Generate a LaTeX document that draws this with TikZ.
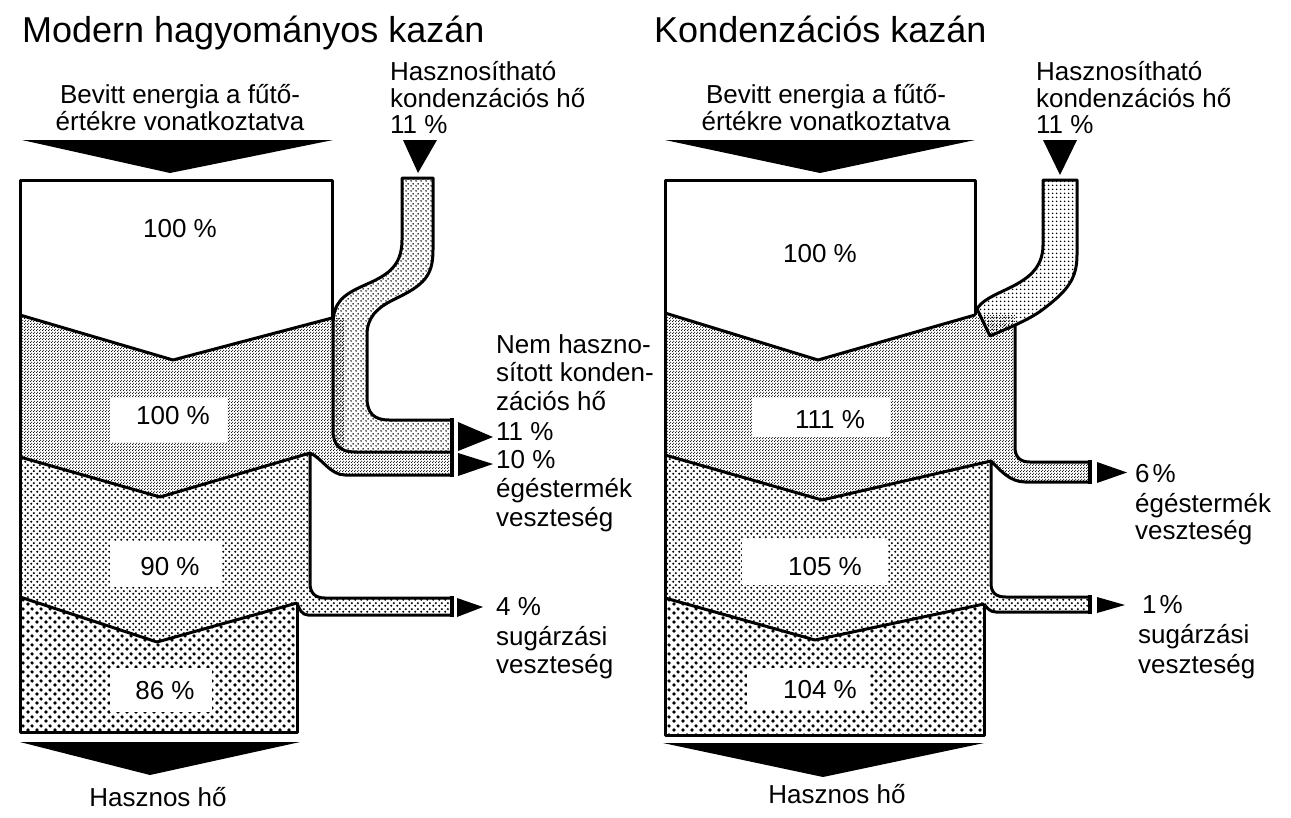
\documentclass[tikz,border=0pt]{standalone}
\usepackage{fontspec}
\setmainfont{Liberation Sans}
\usetikzlibrary{patterns}
\pgfdeclarepatternformonly{lightdots}{\pgfqpoint{0pt}{0pt}}{\pgfqpoint{3pt}{3pt}}{\pgfqpoint{3pt}{3pt}}{%
  \pgfpathcircle{\pgfqpoint{0.75pt}{0.75pt}}{0.74pt}%
  \pgfpathcircle{\pgfqpoint{2.25pt}{2.25pt}}{0.74pt}%
  \pgfusepath{fill}}
\pgfdeclarepatternformonly{meddots}{\pgfqpoint{0pt}{0pt}}{\pgfqpoint{6pt}{6pt}}{\pgfqpoint{6pt}{6pt}}{%
  \pgfpathcircle{\pgfqpoint{1.5pt}{1.5pt}}{1.3pt}%
  \pgfpathcircle{\pgfqpoint{4.5pt}{4.5pt}}{1.3pt}%
  \pgfusepath{fill}}
\pgfdeclarepatternformonly{bigdots}{\pgfqpoint{0pt}{0pt}}{\pgfqpoint{8.5pt}{8.5pt}}{\pgfqpoint{8.5pt}{8.5pt}}{%
  \pgfpathcircle{\pgfqpoint{2.125pt}{2.125pt}}{1.9pt}%
  \pgfpathcircle{\pgfqpoint{6.375pt}{6.375pt}}{1.9pt}%
  \pgfusepath{fill}}
\pgfdeclarepatternformonly{pipedots}{\pgfqpoint{0pt}{0pt}}{\pgfqpoint{5pt}{5pt}}{\pgfqpoint{5pt}{5pt}}{%
  \pgfpathcircle{\pgfqpoint{1.25pt}{1.25pt}}{1.0pt}%
  \pgfpathcircle{\pgfqpoint{3.75pt}{3.75pt}}{1.0pt}%
  \pgfusepath{fill}}
\pgfdeclarepatternformonly{sqdots}{\pgfqpoint{0pt}{0pt}}{\pgfqpoint{3.6pt}{3.6pt}}{\pgfqpoint{3.6pt}{3.6pt}}{%
  \pgfpathcircle{\pgfqpoint{1.8pt}{1.8pt}}{0.85pt}%
  \pgfusepath{fill}}
\begin{document}
\begin{tikzpicture}[x=1pt,y=-1pt,
  wall/.style={line width=3pt,line join=round},
  endbar/.style={line width=4pt},
  lbl/.style={font=\fontsize{26}{30}\selectfont,inner sep=0pt,anchor=base west},
  ctr/.style={font=\fontsize{26}{30}\selectfont,inner sep=0pt,anchor=base},
  ttl/.style={font=\fontsize{36}{40}\selectfont,inner sep=0pt,anchor=base west},
  wbox/.style={fill=white}]
\useasboundingbox[fill=white] (0,0) rectangle (1291,817);

% ================= LEFT: Modern hagyomanyos kazan =================
\fill[pattern=lightdots] (20,315) -- (173,360) -- (332,318) -- (345,318) -- (345,452) -- (452,452) -- (452,475) -- (345,475) .. controls (330,475) and (322,458) .. (310,453) -- (160,497) -- (20,457) -- cycle;
\fill[pattern=meddots] (20,457) -- (160,497) -- (310,453) -- (310,583) .. controls (310,593) and (315,598) .. (325,598) -- (452,598) -- (452,615) -- (308,615) .. controls (302,615) and (299,609) .. (297,603) -- (157,642) -- (20,597) -- cycle;
\fill[pattern=bigdots] (20,597) -- (157,642) -- (297,603) -- (297,732) -- (20,732) -- cycle;

\draw[wall] (332,318) -- (332,180) -- (20,180) -- (20,732) -- (297,732) -- (297,603);
\draw[wall] (20,315) -- (173,360) -- (332,318);
\draw[wall] (20,457) -- (160,497) -- (310,453);
\draw[wall] (20,597) -- (157,642) -- (297,603);
\draw[wall] (450,475) -- (345,475) .. controls (330,475) and (322,458) .. (310,453) -- (310,583) .. controls (310,593) and (315,598) .. (325,598) -- (450,598);
\draw[wall] (450,615) -- (308,615) .. controls (302,615) and (299,609) .. (297,603);

\path[draw,wall,pattern=pipedots] (402,178) -- (402,240) .. controls (402,268) and (385,276) .. (365,285) .. controls (342,295) and (333,303) .. (333,325) -- (333,430) .. controls (333,445) and (340,452) .. (355,452) -- (452,452) -- (452,420) -- (389,420) .. controls (374,420) and (367,413) .. (367,398) -- (367,335) .. controls (367,318) and (376,308) .. (395,299) .. controls (424,285) and (433,276) .. (433,250) -- (433,178) -- cycle;
\draw[endbar] (452,418) -- (452,477) (452,596) -- (452,617);

% arrows
\fill (22,140) -- (333,140) -- (170,173) -- cycle;
\fill (403,140) -- (437,140) -- (418,173) -- cycle;
\fill (20,742) -- (300,742) -- (150,775) -- cycle;
\fill (458,422) -- (458,451) -- (493,437) -- cycle;
\fill (458,453) -- (458,476) -- (493,464) -- cycle;
\fill (457,598) -- (457,617) -- (483,607) -- cycle;

% value boxes
\fill[wbox] (110,398) rectangle (227,442);
\fill[wbox] (110,542) rectangle (222,587);
\fill[wbox] (110,668) rectangle (212,712);
\node[ctr] (Lp1) at (180,237) {100 \%};
\node[ctr] (Lp2) at (173,424) {100 \%};
\node[ctr] (Lp3) at (170,575) {90 \%};
\node[ctr] (Lp4) at (165,699) {86 \%};

% texts
\node[ttl] (Lt) at (22,42) {Modern hagyományos kazán};
\node[ctr] (Lb1) at (180,103) {Bevitt energia a fűtő-};
\node[ctr] (Lb2) at (180,130) {értékre vonatkoztatva};
\node[lbl] (Lh1) at (390,80) {Hasznosítható};
\node[lbl] (Lh2) at (390,107) {kondenzációs hő};
\node[lbl] (Lh3) at (390,133) {11 \%};
\node[lbl] (Ln1) at (496,353) {Nem haszno-};
\node[lbl] (Ln2) at (496,381) {sított konden-};
\node[lbl] (Ln3) at (496,410) {zációs hő};
\node[lbl] (Ln4) at (496,440) {11 \%};
\node[lbl] (Le1) at (496,468) {10 \%};
\node[lbl] (Le2) at (496,497) {égéstermék};
\node[lbl] (Le3) at (496,526) {veszteség};
\node[lbl] (Ls1) at (496,615) {4 \%};
\node[lbl] (Ls2) at (496,645) {sugárzási};
\node[lbl] (Ls3) at (496,673) {veszteség};
\node[ctr] (Lu) at (158,806) {Hasznos hő};

% ================= RIGHT: Kondenzacios kazan =================
\fill[pattern=lightdots] (665,313) -- (818,360) -- (975,315) -- (1015,315) -- (1015,447) .. controls (1015,457) and (1020,462) .. (1030,462) -- (1088,462) -- (1088,482) -- (1025,482) .. controls (1010,482) and (1000,470) .. (991,461) -- (822,500) -- (665,455) -- cycle;
\fill[pattern=meddots] (665,455) -- (822,500) -- (991,461) -- (991,583) .. controls (991,593) and (996,597) .. (1006,597) -- (1088,597) -- (1088,612) -- (996,612) .. controls (990,612) and (987,608) .. (984,604) -- (815,640) -- (665,598) -- cycle;
\fill[pattern=bigdots] (665,598) -- (815,640) -- (984,604) -- (984,735) -- (665,735) -- cycle;

\draw[wall] (975,315) -- (975,180) -- (665,180) -- (665,735) -- (984,735) -- (984,604);
\draw[wall] (665,313) -- (818,360) -- (975,315);
\draw[wall] (665,455) -- (822,500) -- (991,461);
\draw[wall] (665,598) -- (815,640) -- (984,604);
\draw[wall] (1015,324) -- (1015,447) .. controls (1015,457) and (1020,462) .. (1030,462) -- (1088,462);
\draw[wall] (1088,482) -- (1025,482) .. controls (1010,482) and (1000,470) .. (991,461) -- (991,583) .. controls (991,593) and (996,597) .. (1006,597) -- (1088,597);
\draw[wall] (1088,612) -- (996,612) .. controls (990,612) and (987,608) .. (984,604);

\path[draw,wall,pattern=sqdots] (1043,180) -- (1043,245) .. controls (1043,272) and (1022,282) .. (1003,291) .. controls (990,297) and (981,302) .. (977,309) -- (990,336) .. controls (1008,328) and (1030,320) .. (1046,307) .. controls (1068,290) and (1077,278) .. (1077,255) -- (1077,180) -- cycle;
\draw[endbar] (1090,460) -- (1090,484) (1090,595) -- (1090,614);

% arrows
\fill (665,140) -- (975,140) -- (820,173) -- cycle;
\fill (1043,140) -- (1077,140) -- (1060,175) -- cycle;
\fill (663,743) -- (984,743) -- (823,777) -- cycle;
\fill (1097,462) -- (1097,483) -- (1127,472.5) -- cycle;
\fill (1097,597) -- (1097,613) -- (1125,605) -- cycle;

% value boxes
\fill[wbox] (752,398) rectangle (890,437);
\fill[wbox] (742,538) rectangle (888,585);
\fill[wbox] (747,668) rectangle (870,710);
\node[ctr] (Rp1) at (820,262) {100 \%};
\node[ctr] (Rp2) at (830,428) {111 \%};
\node[ctr] (Rp3) at (825,575) {105 \%};
\node[ctr] (Rp4) at (820,698) {104 \%};

% texts
\node[ttl] (Rt) at (654,42) {Kondenzációs kazán};
\node[ctr] (Rb1) at (826,103) {Bevitt energia a fűtő-};
\node[ctr] (Rb2) at (826,130) {értékre vonatkoztatva};
\node[lbl] (Rh1) at (1036,80) {Hasznosítható};
\node[lbl] (Rh2) at (1036,107) {kondenzációs hő};
\node[lbl] (Rh3) at (1036,133) {11 \%};
\node[lbl] (Re1) at (1135,482) {6\hspace{3pt}\%};
\node[lbl] (Re2) at (1135,512) {égéstermék};
\node[lbl] (Re3) at (1135,539) {veszteség};
\node[lbl] (Rs1) at (1142,613) {1\hspace{3pt}\%};
\node[lbl] (Rs2) at (1138,643) {sugárzási};
\node[lbl] (Rs3) at (1138,673) {veszteség};
\node[ctr] (Ru) at (837,803) {Hasznos hő};
\end{tikzpicture}
\end{document}
